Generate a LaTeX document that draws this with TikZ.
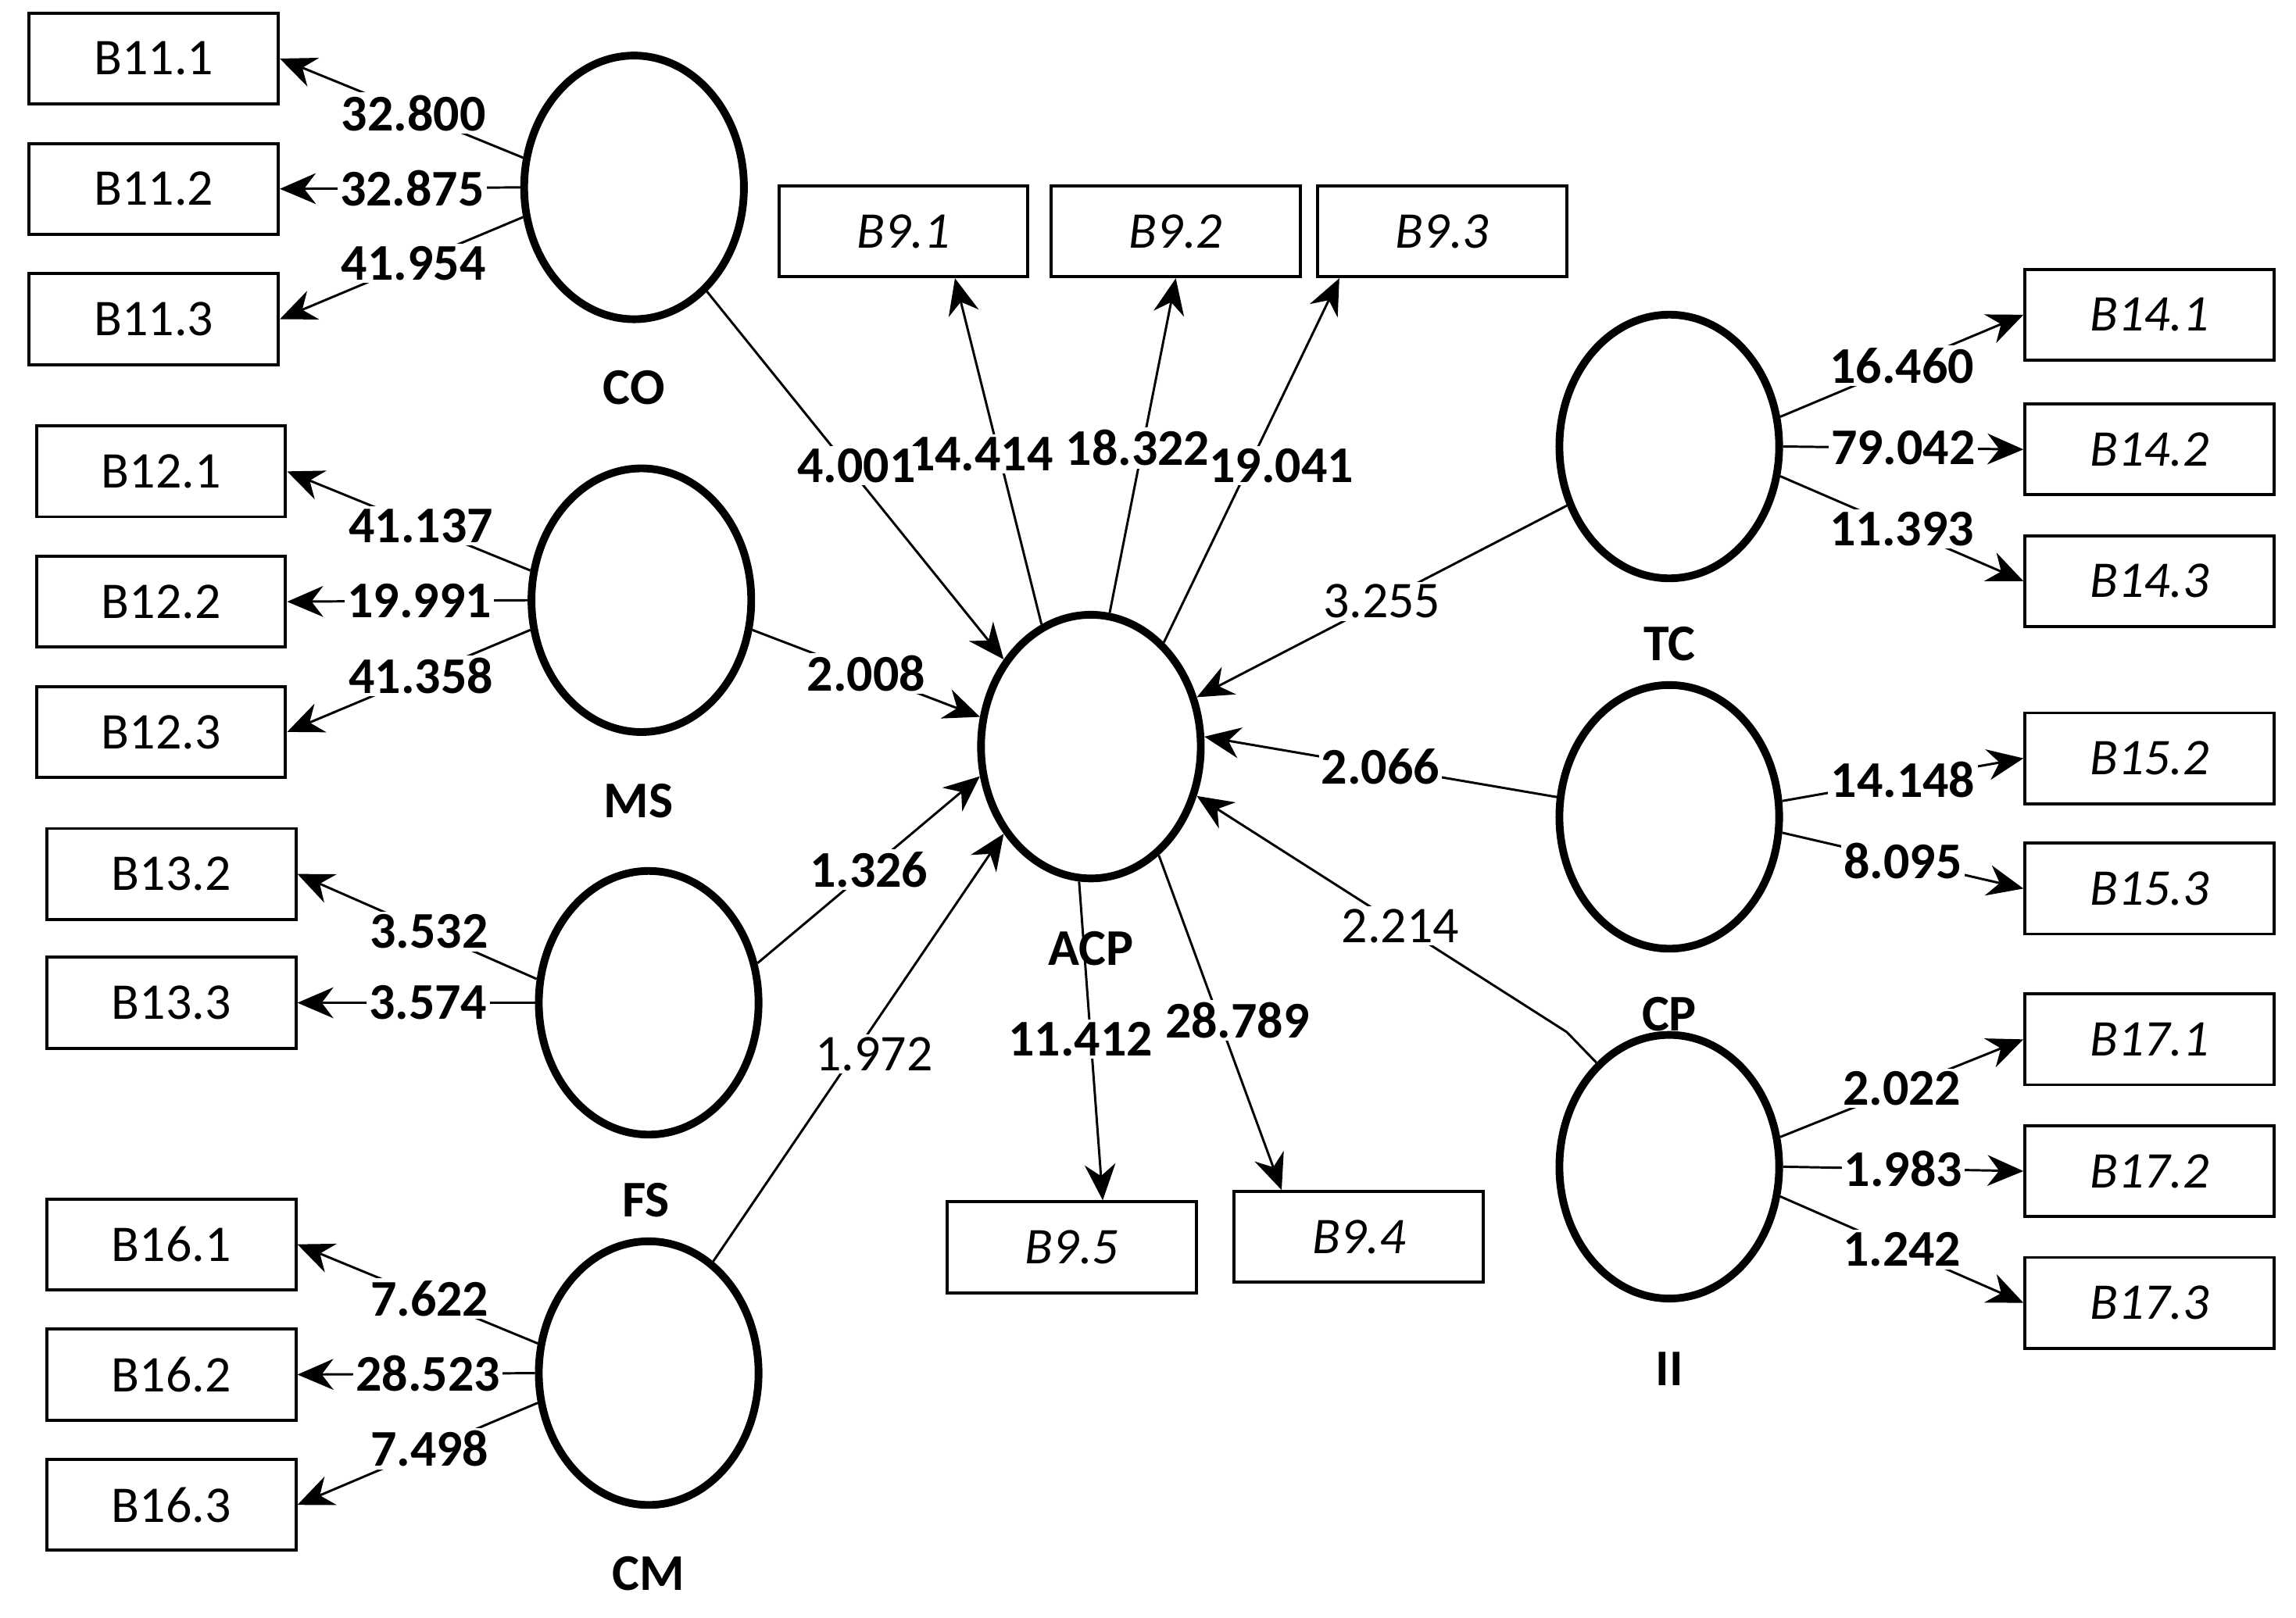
\documentclass[tikz,border=0pt]{standalone}
\usepackage{fontspec}
\setmainfont{Carlito}
\usetikzlibrary{arrows.meta,shapes.geometric}
\begin{document}
\begin{tikzpicture}[x=0.01cm,y=-0.01cm,
 box/.style={draw,line width=0.6pt,minimum width=1.7cm,minimum height=0.62cm,inner sep=0pt,font=\fontsize{10}{12}\selectfont},
 ibox/.style={box,font=\fontsize{10}{12}\selectfont\itshape},
 lv/.style={draw,ellipse,line width=1.5pt,minimum width=1.5cm,minimum height=1.8cm,inner sep=0pt},
 lab/.style={font=\fontsize{10}{12}\selectfont\bfseries},
 lk/.style={->,line width=0.45pt,>={Stealth[length=7pt,width=6pt]}},
 num/.style={fill=white,inner sep=0.5pt,font=\fontsize{10}{12}\selectfont\bfseries},
 numl/.style={fill=white,inner sep=0.5pt,font=\fontsize{10}{12}\selectfont}]
\useasboundingbox (0,0) rectangle (1568,1105);
% left boxes
\node[box] (b111) at (105,40) {B11.1};
\node[box] (b112) at (105,129) {B11.2};
\node[box] (b113) at (105,218) {B11.3};
\node[box] (b121) at (110,322) {B12.1};
\node[box] (b122) at (110,411) {B12.2};
\node[box] (b123) at (110,500) {B12.3};
\node[box] (b132) at (117,597) {B13.2};
\node[box] (b133) at (117,685) {B13.3};
\node[box] (b161) at (117,850) {B16.1};
\node[box] (b162) at (117,939) {B16.2};
\node[box] (b163) at (117,1028) {B16.3};
% top / bottom
\node[ibox] (b91) at (617,158) {B9.1};
\node[ibox] (b92) at (803,158) {B9.2};
\node[ibox] (b93) at (985,158) {B9.3};
\node[ibox] (b95) at (732,852) {B9.5};
\node[ibox] (b94) at (928,845) {B9.4};
% right
\node[ibox] (b141) at (1468,215) {B14.1};
\node[ibox] (b142) at (1468,307) {B14.2};
\node[ibox] (b143) at (1468,397) {B14.3};
\node[ibox] (b152) at (1468,518) {B15.2};
\node[ibox] (b153) at (1468,607) {B15.3};
\node[ibox] (b171) at (1468,710) {B17.1};
\node[ibox] (b172) at (1468,800) {B17.2};
\node[ibox] (b173) at (1468,890) {B17.3};
% latent
\node[lv] (CO) at (433,128) {};
\node[lv] (MS) at (438,410) {};
\node[lv] (FS) at (443,685) {};
\node[lv] (CM) at (443,938) {};
\node[lv] (ACP) at (745,510) {};
\node[lv] (TC) at (1140,305) {};
\node[lv] (CP) at (1140,558) {};
\node[lv] (II) at (1140,797) {};
\node[lab] (lCO) at (433,265) {CO};
\node[lab] (lMS) at (436,547) {MS};
\node[lab] (lFS) at (441,820) {FS};
\node[lab] (lCM) at (443,1075) {CM};
\node[lab] (lACP) at (745,648) {ACP};
\node[lab] (lTC) at (1140,440) {TC};
\node[lab] (lCP) at (1140,693) {CP};
\node[lab] (lII) at (1140,935) {II};
% left loadings
\draw[lk] (CO.165) -- node[num,pos=0.45]{32.800} (b111.east);
\draw[lk] (CO.180) -- node[num,pos=0.45]{32.875} (b112.east);
\draw[lk] (CO.195) -- node[num,pos=0.45]{41.954} (b113.east);
\draw[lk] (MS.165) -- node[num,pos=0.45]{41.137} (b121.east);
\draw[lk] (MS.180) -- node[num,pos=0.45]{19.991} (b122.east);
\draw[lk] (MS.195) -- node[num,pos=0.45]{41.358} (b123.east);
\draw[lk] (FS.168) -- node[num,pos=0.45]{3.532} (b132.east);
\draw[lk] (FS.180) -- node[num,pos=0.45]{3.574} (b133.east);
\draw[lk] (CM.165) -- node[num,pos=0.45]{7.622} (b161.east);
\draw[lk] (CM.180) -- node[num,pos=0.45]{28.523} (b162.east);
\draw[lk] (CM.195) -- node[num,pos=0.45]{7.498} (b163.east);
% right loadings
\draw[lk] (TC.15) -- node[num,pos=0.5]{16.460} (b141.west);
\draw[lk] (TC.0) -- node[num,pos=0.5]{79.042} (b142.west);
\draw[lk] (TC.-15) -- node[num,pos=0.5]{11.393} (b143.west);
\draw[lk] (CP.8) -- node[num,pos=0.5]{14.148} (b152.west);
\draw[lk] (CP.-8) -- node[num,pos=0.5]{8.095} (b153.west);
\draw[lk] (II.15) -- node[num,pos=0.5]{2.022} (b171.west);
\draw[lk] (II.0) -- node[num,pos=0.5]{1.983} (b172.west);
\draw[lk] (II.-15) -- node[num,pos=0.5]{1.242} (b173.west);
% ACP loadings
\draw[lk] (ACP.112) -- ([xshift=10]b91.south);
\draw[lk] (ACP.82) -- (b92.south);
\draw[lk] (ACP.55) -- ([xshift=-20]b93.south);
\draw[lk] (ACP.-95) -- ([xshift=6]b95.north);
\draw[lk] (ACP.-58) -- ([xshift=-15]b94.north);
\node[num] (l1) at (670,310) {14.414};
\node[num] (l2) at (777,306) {18.322};
\node[num] (l3) at (875,318) {19.041};
\node[num] (l4) at (738,710) {11.412};
\node[num] (l5) at (845,697) {28.789};
% paths
\draw[lk] (CO.-55) -- (ACP.135);
\node[num] (p1) at (585,318) {4.001};
\draw[lk] (MS.-15) -- node[num,pos=0.5]{2.008} (ACP.165);
\draw[lk] (FS.20) -- node[num,pos=0.5]{1.326} (ACP.-165);
\draw[lk] (CM.60) -- (ACP.-135);
\node[numl] (p4) at (597,720) {1.972};
\draw[lk] (TC.-150) -- node[numl,pos=0.5]{3.255} (ACP.25);
\draw[lk] (CP.170) -- node[num,pos=0.5]{2.066} (ACP.5);
\coordinate (ibend) at (1070,705);
\draw[lk] (II.125) -- (ibend) -- node[numl,pos=0.45]{2.214} (ACP.-25);
\end{tikzpicture}
\end{document}
